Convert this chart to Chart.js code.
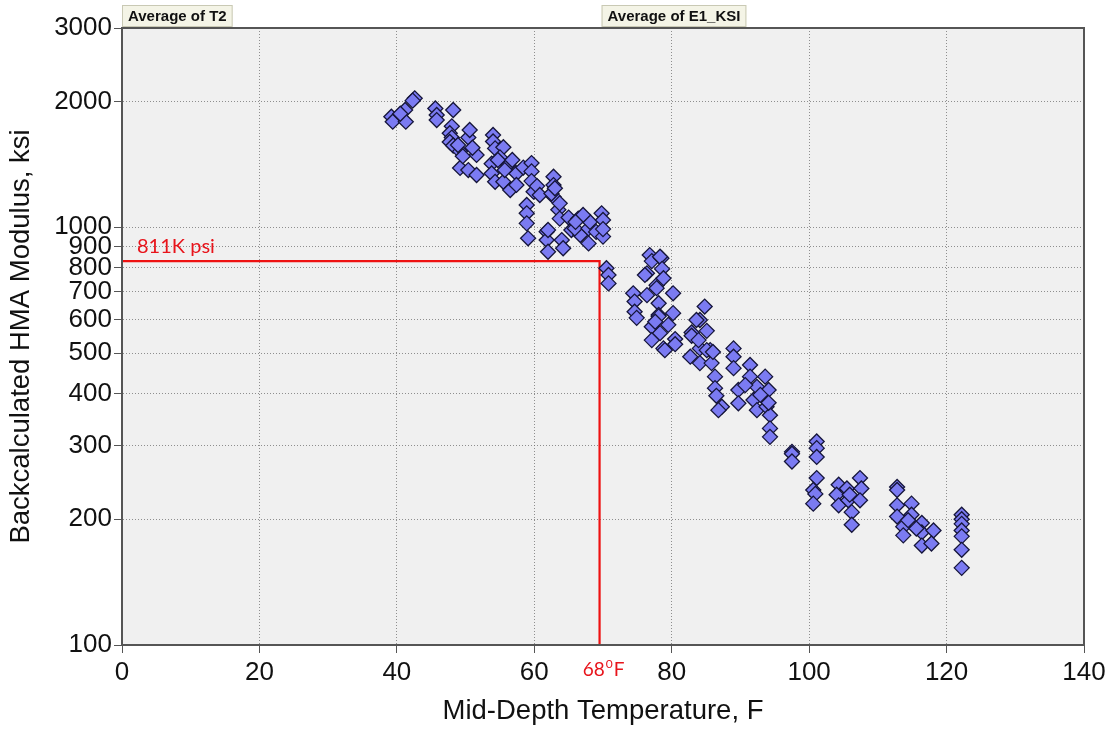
<!DOCTYPE html>
<html>
<head>
<meta charset="utf-8">
<script src="https://cdn.jsdelivr.net/npm/chart.js@4/dist/chart.umd.min.js"></script>
<style>
  html, body { margin: 0; padding: 0; background: #ffffff; }
  #wrap { width: 1111px; height: 729px; position: relative; }
</style>
</head>
<body>
<div id="wrap"><canvas id="c" width="1111" height="729"></canvas></div>
<script>
// ---- Data ----
const temps = [
  39.2, 39.4, 41.2, 41.3, 40.5, 42.6, 42.3,
  45.6, 45.8, 45.8, 48.2, 48.0, 47.7, 48.0, 47.7, 48.2, 49.2, 50.4, 50.6, 51.6, 49.2, 50.4, 51.6, 48.9, 49.6, 51.0,
  54.0, 54.0, 54.3, 55.5, 53.8, 55.0, 53.8, 54.3, 55.5, 56.5, 57.4, 57.4, 56.2, 54.7, 55.7, 56.8, 58.4, 59.6, 59.6, 59.6, 59.9, 58.9, 58.9, 58.9, 59.1, 60.4, 60.8,
  62.8, 62.8, 62.8, 62.5, 63.5, 63.7, 63.7, 61.8, 61.8, 62.0, 64.0, 64.2, 62.0, 65.0, 63.0,
  65.4, 66.4, 66.7, 65.9, 67.9, 67.9, 68.1, 67.1, 69.0, 69.8, 70.0, 70.0, 70.0, 66.0,
  70.5, 70.8, 70.8,
  76.8, 77.1, 76.4, 77.8, 78.5, 78.3, 76.1, 77.8, 74.4, 74.6, 74.6, 74.9, 76.4, 78.1, 78.1, 78.1, 80.2, 80.2, 77.1, 77.1, 78.3, 78.8, 79.0, 80.5, 80.5, 78.6, 78.8, 77.6, 79.5,
  82.9, 82.9, 84.1, 84.8, 84.1, 83.6, 85.1, 82.7, 84.1, 85.6, 85.8, 85.1, 86.0, 86.3, 86.3, 86.5, 87.3, 86.8, 83.9,
  89.0, 89.0, 89.0, 91.4, 89.7, 89.7, 91.4, 93.6, 92.4, 94.1, 91.9, 92.4, 93.8, 94.3, 94.3, 94.3, 90.7, 92.9, 94.1,
  97.5, 97.5, 97.5,
  101.1, 101.1, 101.1, 101.1, 100.6, 100.9, 100.6,
  104.3, 104.0, 104.3, 105.5, 105.7, 106.2, 106.2, 107.4, 107.6, 107.4, 105.9,
  112.8, 112.8, 112.8, 112.8, 114.9, 114.9, 113.7, 113.7, 116.4, 116.4, 116.4, 118.1, 117.8, 114.4, 115.6,
  122.2, 122.2, 122.2, 122.2, 122.2, 122.2, 122.2
];
const moduli = [
  1840, 1790, 1909, 1790, 1870, 2036, 2010,
  1925, 1857, 1806, 1909, 1745, 1680, 1640, 1600, 1570, 1520, 1640, 1710, 1490, 1387, 1371, 1334, 1574, 1480, 1550,
  1663, 1605, 1545, 1555, 1420, 1470, 1345, 1285, 1285, 1228, 1345, 1263, 1410, 1449, 1371, 1449, 1390, 1425, 1361, 1290, 1217, 1131, 1080, 1022, 941, 1255, 1195,
  1321, 1262, 1184, 1205, 1102, 1049, 1141, 976, 932, 874, 932, 891, 985, 1055, 1240,
  985, 1049, 958, 994, 994, 915, 1030, 1070, 975, 1080, 1041, 950, 990, 1030,
  798, 769, 734,
  858, 830, 776, 727, 843, 850, 769, 715, 695, 664, 628, 607, 688, 658, 617, 612, 695, 623, 578, 537, 558, 513, 508, 540, 525, 795, 755, 594, 584,
  560, 550, 513, 646, 600, 600, 565, 490, 473, 508, 473, 508, 503, 439, 412, 395, 372, 365, 537,
  513, 490, 460, 468, 408, 379, 439, 439, 415, 408, 386, 365, 372, 355, 330, 315, 419, 397, 380,
  290, 287, 275,
  307, 296, 282, 251, 235, 230, 218,
  242, 229, 216, 237, 222, 208, 194, 251, 237, 222, 229,
  239, 235, 216, 203, 218, 205, 192, 183, 196, 186, 173, 188, 175, 199, 190,
  205, 200, 195, 188, 182, 169, 153
];
const xTicks = [0, 20, 40, 60, 80, 100, 120, 140];
const yTicks = [100, 200, 300, 400, 500, 600, 700, 800, 900, 1000, 2000, 3000];
const refTemp = 69.5;       // red vertical line position (as drawn)
const refModulus = 830;     // red horizontal line position (as drawn)
const refModulusLabel = '811K psi';
const refTempLabel = ['68', '0', 'F'];
const fieldButtons = ['Average of T2', 'Average of E1_KSI'];

const points = temps.map((t, i) => ({ x: t, y: moduli[i] }));
const refLine = [{ x: 0, y: refModulus }, { x: refTemp, y: refModulus }, { x: refTemp, y: 100 }];

const deco = {
  id: 'deco',
  beforeDraw(chart) {
    const { ctx, chartArea: a } = chart;
    ctx.save();
    ctx.fillStyle = '#f0f0f0';
    ctx.fillRect(a.left, a.top, a.right - a.left, a.bottom - a.top);
    ctx.restore();
  },
  afterDraw(chart) {
    const { ctx, chartArea: a, scales } = chart;
    ctx.save();
    // plot frame
    ctx.strokeStyle = '#555555';
    ctx.lineWidth = 2;
    ctx.strokeRect(a.left, a.top, a.right - a.left, a.bottom - a.top);
    // field buttons
    ctx.font = 'bold 15px "Liberation Sans", Arial, sans-serif';
    ctx.textBaseline = 'middle';
    const btnX = [a.left, scales.x.getPixelForValue(refTemp) + 2];
    fieldButtons.forEach((txt, i) => {
      const w = ctx.measureText(txt).width + 12;
      const x = btnX[i], y = 5, h = 22;
      ctx.fillStyle = '#f4f4e6';
      ctx.fillRect(x, y, w, h);
      ctx.strokeStyle = '#c9c9b4';
      ctx.lineWidth = 1;
      ctx.strokeRect(x + 0.5, y + 0.5, w - 1, h - 1);
      ctx.fillStyle = '#111111';
      ctx.textAlign = 'left';
      ctx.fillText(txt, x + 6, y + h / 2 + 1);
    });
    // red labels
    ctx.fillStyle = '#e8141b';
    ctx.font = '20px Lato, "Open Sans", sans-serif';
    ctx.textAlign = 'left';
    ctx.textBaseline = 'alphabetic';
    const yl = scales.y.getPixelForValue(refModulus);
    ctx.fillText(refModulusLabel, a.left + 15, yl - 8);
    const xl = scales.x.getPixelForValue(refTemp);
    ctx.font = '19px Lato, "Open Sans", sans-serif';
    const w1 = ctx.measureText(refTempLabel[0]).width;
    ctx.font = '12px Lato, "Open Sans", sans-serif';
    const w2 = ctx.measureText(refTempLabel[1]).width;
    ctx.font = '19px Lato, "Open Sans", sans-serif';
    const w3 = ctx.measureText(refTempLabel[2]).width;
    let sx = xl + 4 - (w1 + w2 + w3 + 2) / 2;
    const by = a.bottom + 31;
    ctx.fillText(refTempLabel[0], sx, by);
    sx += w1 + 1;
    ctx.font = '12px Lato, "Open Sans", sans-serif';
    ctx.fillText(refTempLabel[1], sx, by - 8);
    sx += w2 + 1;
    ctx.font = '19px Lato, "Open Sans", sans-serif';
    ctx.fillText(refTempLabel[2], sx, by);
    ctx.restore();
  }
};

const tickFont = { family: '"Liberation Sans", Arial, sans-serif', size: 26 };
const titleFont = { family: '"Liberation Sans", Arial, sans-serif', size: 27.5 };

new Chart(document.getElementById('c'), {
  type: 'scatter',
  data: {
    datasets: [
      {
        label: 'Modulus',
        data: points,
        pointStyle: 'rectRot',
        pointRadius: 7.5,
        pointHoverRadius: 7.5,
        backgroundColor: '#7b7bf2',
        borderColor: '#15153a',
        borderWidth: 1.3,
        order: 0
      },
      {
        type: 'line',
        label: 'ref',
        data: refLine,
        borderColor: '#ee1111',
        borderWidth: 2.2,
        pointRadius: 0,
        fill: false,
        tension: 0,
        order: 1
      }
    ]
  },
  options: {
    responsive: false,
    animation: false,
    events: [],
    layout: { padding: { left: 0, top: 28, right: 27, bottom: 0 } },
    plugins: { legend: { display: false }, tooltip: { enabled: false } },
    scales: {
      x: {
        type: 'linear',
        min: 0, max: 140,
        afterBuildTicks(s) { s.ticks = xTicks.map(v => ({ value: v })); },
        afterFit(s) { s.height = 84; },
        ticks: { font: tickFont, color: '#111', padding: 4, maxRotation: 0, autoSkip: false },
        grid: { color: 'rgba(110,110,110,0.75)', lineWidth: 1, tickLength: 8, tickColor: '#555' },
        border: { display: true, color: '#555', width: 2, dash: [1, 2] },
        title: { display: true, text: 'Mid-Depth Temperature, F', font: titleFont, color: '#111', padding: { top: 2, bottom: 1 } }
      },
      y: {
        type: 'logarithmic',
        min: 100, max: 3000,
        afterBuildTicks(s) { s.ticks = yTicks.map(v => ({ value: v })); },
        afterFit(s) { s.width = 122; },
        ticks: { font: tickFont, color: '#111', padding: 2, autoSkip: false, callback: v => String(v) },
        grid: { color: 'rgba(110,110,110,0.75)', lineWidth: 1, tickLength: 8, tickColor: '#555' },
        border: { display: true, color: '#555', width: 2, dash: [1, 2] },
        title: { display: true, text: 'Backcalculated HMA Modulus, ksi', font: titleFont, color: '#111', padding: { top: 5, bottom: 2 } }
      }
    }
  },
  plugins: [deco]
});
</script>
</body>
</html>
